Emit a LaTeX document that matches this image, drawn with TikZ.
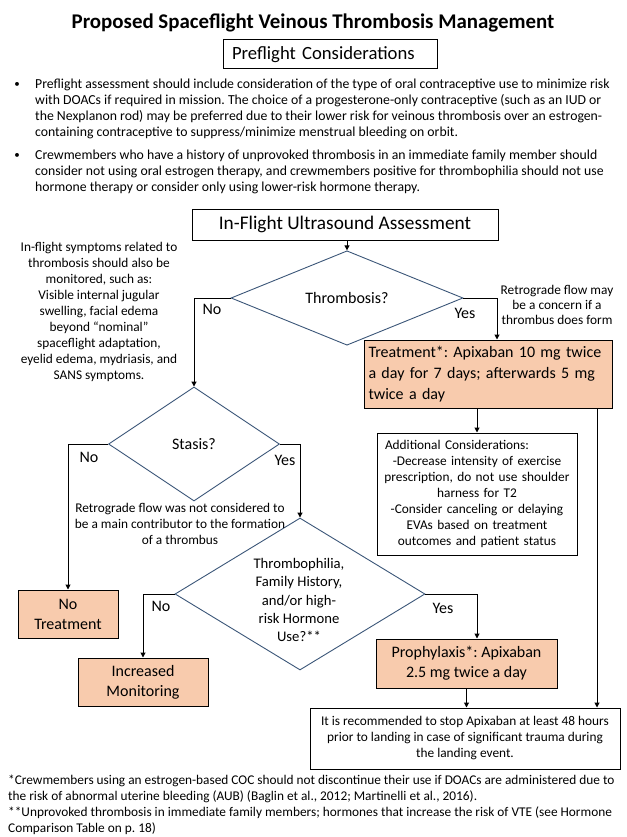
\documentclass[tikz,border=0pt]{standalone}
\usepackage{fontspec}
\setmainfont{Carlito}
\usetikzlibrary{arrows.meta, positioning, shapes.geometric}
\definecolor{peach}{HTML}{F8CBAD}
\definecolor{slate}{HTML}{3B5678}
\newcommand{\tensize}{\fontsize{13.33}{16}\selectfont}
\newcommand{\twelvesize}{\fontsize{16}{20}\selectfont}
\frenchspacing

\begin{document}
\begin{tikzpicture}[x=1pt, y=-1pt,
    box/.style={draw, line width=1pt, inner sep=0pt, align=center},
    tint/.style={box, fill=peach},
    decision/.style={diamond, draw=slate, line width=0.9pt, inner sep=0pt, align=center},
    note/.style={inner sep=0pt, align=center, font=\tensize},
    choice/.style={inner sep=0pt, font=\twelvesize},
    flow/.style={-{Triangle[length=5pt, width=5pt]}, line width=1pt}]
    \useasboundingbox (0,0) rectangle (626,837);

    % Header and preflight notes
    \node[inner sep=0pt, font=\fontsize{20.9}{26}\selectfont\bfseries] (title) at (313,23) {Proposed Spaceflight Veinous Thrombosis Management};
    \node[box, minimum width=214, minimum height=29, text width=196pt, align=left, font=\fontsize{18.67}{22}\selectfont] (pre) at (330,54.5) {Preflight Considerations};
    \node[note, font=\fontsize{11}{16}\selectfont] (dot1) at (17,85) {\textbullet};
    \node[note, align=left, anchor=west, font=\fontsize{13.75}{16}\selectfont] (bul1) at (35,109) {Preflight assessment should include consideration of the type of oral contraceptive use to minimize risk\\
        with DOACs if required in mission. The choice of a progesterone-only contraceptive (such as an IUD or\\
        the Nexplanon rod) may be preferred due to their lower risk for veinous thrombosis over an estrogen-\\
        containing contraceptive to suppress/minimize menstrual bleeding on orbit.};
    \node[note, font=\fontsize{11}{16}\selectfont] (dot2) at (17,156) {\textbullet};
    \node[note, align=left, anchor=west, font=\fontsize{13.75}{16}\selectfont] (bul2) at (35,172) {Crewmembers who have a history of unprovoked thrombosis in an immediate family member should\\
        consider not using oral estrogen therapy, and crewmembers positive for thrombophilia should not use\\
        hormone therapy or consider only using lower-risk hormone therapy.};

    % In-flight flow
    \node[box, minimum width=306, minimum height=31, font=\fontsize{19.3}{22}\selectfont] (scan) at (345,224.5) {In-Flight Ultrasound Assessment};
    \node[decision, minimum width=232, minimum height=72, font=\twelvesize] (thromb) at (347,298) {Thrombosis?};
    \node[decision, minimum width=171, minimum height=114, font=\twelvesize] (stasis) at (194,444) {Stasis?};
    \node[decision, minimum width=250, minimum height=152] (risk) at (300,594) {};
    \node[note, font=\fontsize{14.67}{18.2}\selectfont] (riskq) at (299,600) {Thrombophilia,\\Family History,\\and/or high-\\risk Hormone\\Use?**};

    \node[tint, minimum width=248, minimum height=68, text width=240pt, align=left, font=\fontsize{16}{21}\selectfont] (treat) at (488.5,374) {Treatment*: Apixaban 10 mg twice\\a day for 7 days; afterwards 5 mg\\twice a day};
    \node[box, minimum width=200, minimum height=122, text width=192pt, font=\tensize] (extra) at (477,494) {\makebox[192pt][l]{\hskip 4pt Additional Considerations:}\\-Decrease intensity of exercise\\prescription, do not use shoulder\\harness for T2\\-Consider canceling or delaying\\EVAs based on treatment\\outcomes and patient status};
    \node[tint, minimum width=100, minimum height=48, font=\twelvesize] (none) at (68,614) {No\\Treatment};
    \node[tint, minimum width=130, minimum height=48, font=\twelvesize] (watch) at (143,682) {Increased\\Monitoring};
    \node[tint, minimum width=181, minimum height=49, font=\twelvesize] (proph) at (466.5,663.5) {Prophylaxis*: Apixaban\\2.5 mg twice a day};
    \node[box, minimum width=310, minimum height=61, font=\tensize] (stop) at (465,738.5) {It is recommended to stop Apixaban at least 48 hours\\prior to landing in case of significant trauma during\\the landing event.};

    % Side remarks
    \node[note] (symptoms) at (99,311.5) {In-flight symptoms related to\\thrombosis should also be\\monitored, such as:\\Visible internal jugular\\swelling, facial edema\\beyond “nominal”\\spaceflight adaptation,\\eyelid edema, mydriasis, and\\SANS symptoms.};
    \node[note, font=\fontsize{13.33}{15}\selectfont] (retro) at (557,305) {Retrograde flow may\\be a concern if a\\thrombus does form};
    \node[note] (noretro) at (180,524) {Retrograde flow was not considered to\\be a main contributor to the formation\\of a thrombus};

    % Connectors
    \draw[flow] (scan.south -| thromb.north) -- (thromb.north);
    \draw[flow] (thromb.west) -| (stasis.north);
    \draw[flow] (thromb.east) -| ([xshift=8.5pt]treat.north);
    \draw[flow] (treat.south -| extra.north) -- (extra.north);
    \draw[flow] ([xshift=108.5pt]treat.south) -- ([xshift=108.5pt]treat.south |- stop.north);
    \draw[flow] (stasis.west) -| (none.north);
    \draw[flow] (stasis.east) -| (risk.north);
    \draw[flow] (risk.west) -| (watch.north);
    \draw[flow] (risk.east) -| ([xshift=10.5pt]proph.north);
    \draw[flow] (proph.south) -- (proph.south |- stop.north);

    % Yes / No labels
    \node[choice] (thrno) at (212,309) {No};
    \node[choice] (thryes) at (465,313) {Yes};
    \node[choice] (stno) at (89,457) {No};
    \node[choice] (styes) at (285,460) {Yes};
    \node[choice] (rkno) at (161,606) {No};
    \node[choice] (rkyes) at (443,608) {Yes};

    % Footnotes
    \node[note, align=left, anchor=west] (foot1) at (8,789) {*Crewmembers using an estrogen-based COC should not discontinue their use if DOACs are administered due to\\the risk of abnormal uterine bleeding (AUB) (Baglin et al., 2012; Martinelli et al., 2016).};
    \node[note, align=left, anchor=west] (foot2) at (8,821) {**Unprovoked thrombosis in immediate family members; hormones that increase the risk of VTE (see Hormone\\Comparison Table on p. 18)};
\end{tikzpicture}
\end{document}
